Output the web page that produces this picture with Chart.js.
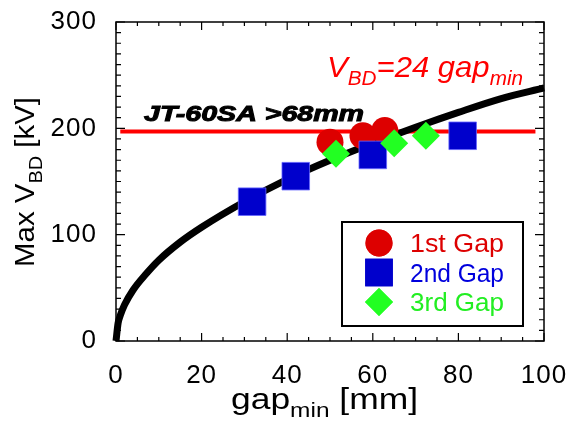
<!DOCTYPE html>
<html>
<head>
<meta charset="utf-8">
<script src="https://cdn.jsdelivr.net/npm/chart.js@4.4.0/dist/chart.umd.min.js"></script>
<style>
  html, body { margin: 0; padding: 0; background: #fff; }
  #wrap { width: 571px; height: 425px; }
</style>
</head>
<body>
<div id="wrap"><canvas id="c" width="571" height="425"></canvas></div>
<script>
// fitted breakdown curve
const curveGap = [0, 0.5, 1, 2, 4, 7, 10, 15, 20, 30, 40, 50, 60, 70, 80, 90, 100];
const curveV = [0, 17, 24, 34, 48, 63, 76, 93, 107, 131, 152, 170, 186, 201, 215, 228, 238];

// measured points
const gap1 = [50, 57.7, 62.8];
const v1 = [187, 193, 198];
const gap2 = [31.8, 42, 60, 81];
const v2 = [131, 155, 175, 193];
const gap3 = [51.4, 65, 72.4];
const v3 = [176, 186, 193];

// JT-60SA requirement line
const limitGap = [1, 98];
const limitV = [197, 197];

const xTicks = [0, 20, 40, 60, 80, 100];
const yTicks = [0, 100, 200, 300];

const FONT = '"Liberation Sans", Arial, Helvetica, sans-serif';
const RED = '#dd0000';
const BLUE = '#0000cc';
const GREEN = '#22ff22';

const pts = (xs, ys) => xs.map((x, i) => ({ x, y: ys[i] }));

function richWidth(ctx, parts, size, subSize, style) {
    let w = 0;
    parts.forEach(([t, sub]) => {
        ctx.font = `${style} ${sub ? subSize : size}px ${FONT}`;
        w += ctx.measureText(t).width;
    });
    return w;
}

// text with subscript pieces, squeezed/stretched to a target width
function drawRich(ctx, parts, x, y, size, subSize, style, width, stroke) {
    const w = richWidth(ctx, parts, size, subSize, style);
    const k = width ? width / w : 1;
    ctx.save();
    ctx.translate(x, y);
    ctx.scale(k, 1);
    let cx = 0;
    parts.forEach(([t, sub]) => {
        ctx.font = `${style} ${sub ? subSize : size}px ${FONT}`;
        ctx.fillText(t, cx, sub ? size * 0.28 : 0);
        if (stroke) {
            ctx.strokeStyle = ctx.fillStyle;
            ctx.lineWidth = stroke;
            ctx.strokeText(t, cx, sub ? size * 0.28 : 0);
        }
        cx += ctx.measureText(t).width;
    });
    ctx.restore();
}

const decor = {
    id: 'decor',
    beforeDraw(chart) {
        chart.ctx.letterSpacing = '1px';
    },
    afterDraw(chart) {
        const { ctx, chartArea: a, scales: { x, y } } = chart;
        ctx.save();
        ctx.letterSpacing = '0px';

        // frame
        ctx.strokeStyle = '#000';
        ctx.lineWidth = 1.5;
        ctx.strokeRect(a.left, a.top, a.right - a.left, a.bottom - a.top);

        // inward ticks on all sides
        ctx.lineWidth = 1.2;
        ctx.beginPath();
        for (let v = 0; v <= 100; v += 5) {
            const px = x.getPixelForValue(v);
            const len = v % 20 === 0 ? 8 : 4;
            ctx.moveTo(px, a.bottom); ctx.lineTo(px, a.bottom - len);
            ctx.moveTo(px, a.top); ctx.lineTo(px, a.top + len);
        }
        for (let v = 0; v <= 300; v += 10) {
            const py = y.getPixelForValue(v);
            const len = v % 100 === 0 ? 9 : 5;
            ctx.moveTo(a.left, py); ctx.lineTo(a.left + len, py);
            ctx.moveTo(a.right, py); ctx.lineTo(a.right - len, py);
        }
        ctx.stroke();

        ctx.textBaseline = 'alphabetic';
        ctx.textAlign = 'left';

        // x axis title
        ctx.fillStyle = '#000';
        drawRich(ctx, [['gap', false], ['min', true], [' [mm]', false]], 231, 409, 29, 20, 'normal', 187);

        // y axis title (rotated)
        ctx.save();
        ctx.translate(34, 267);
        ctx.rotate(-Math.PI / 2);
        drawRich(ctx, [['Max V', false], ['BD', true], [' [kV]', false]], 0, 0, 28, 19, 'normal', 170);
        ctx.restore();

        // formula annotation
        ctx.fillStyle = '#ff0000';
        drawRich(ctx, [['V', false], ['BD', true], ['=24 gap', false], ['min', true]],
            327, 77, 30, 20, 'italic', 196);

        // JT-60SA label
        ctx.fillStyle = '#000';
        drawRich(ctx, [['JT-60SA >68mm', false]], 144, 121, 22, 14, 'italic bold', 220, 1);

        // legend box
        const lx = 342, ly = 222, lw = 181, lh = 104;
        ctx.fillStyle = '#fff';
        ctx.fillRect(lx, ly, lw, lh);
        ctx.strokeStyle = '#000';
        ctx.lineWidth = 2;
        ctx.strokeRect(lx, ly, lw, lh);
        const items = [
            ['1st Gap', RED, RED, 'circle', 13.5],
            ['2nd Gap', BLUE, '#0000dd', 'rect', 19.5],
            ['3rd Gap', GREEN, '#22ee22', 'rectRot', 14]
        ];
        items.forEach(([label, col, txtCol, style, r], i) => {
            const cy = 243 + i * 29.5;
            ctx.fillStyle = col;
            Chart.helpers.drawPoint(ctx, { pointStyle: style, radius: r, borderWidth: 0, rotation: 0 }, 379, cy);
            ctx.fill();
            ctx.fillStyle = txtCol;
            drawRich(ctx, [[label, false]], 410, cy + 9, 25, 16, 'normal', 94);
        });
        ctx.restore();
    }
};

new Chart(document.getElementById('c'), {
    type: 'scatter',
    data: {
        datasets: [
            {
                label: 'JT-60SA', data: pts(limitGap, limitV), showLine: true,
                borderColor: '#ff0000', borderWidth: 4, pointRadius: 0, order: 5
            },
            {
                label: 'fit', data: pts(curveGap, curveV), showLine: true,
                borderColor: '#000', borderWidth: 7, pointRadius: 0,
                cubicInterpolationMode: 'monotone', clip: false, order: 4
            },
            {
                label: '1st Gap', data: pts(gap1, v1), pointStyle: 'circle', pointRadius: 13.5,
                backgroundColor: RED, borderWidth: 0, order: 3
            },
            {
                label: '2nd Gap', data: pts(gap2, v2), pointStyle: 'rect', pointRadius: 19.5,
                backgroundColor: BLUE, borderColor: '#6666ff', borderWidth: 0.8, order: 2
            },
            {
                label: '3rd Gap', data: pts(gap3, v3), pointStyle: 'rectRot', pointRadius: 14,
                backgroundColor: GREEN, borderWidth: 0, order: 1
            }
        ]
    },
    options: {
        responsive: false,
        animation: false,
        events: [],
        layout: { padding: { left: 0, right: 27, top: 22, bottom: 0 } },
        plugins: { legend: { display: false }, tooltip: { enabled: false } },
        scales: {
            x: {
                type: 'linear', min: 0, max: 100,
                afterFit: s => { s.height = 84; s.paddingLeft = 0; s.paddingRight = 0; },
                afterBuildTicks: s => { s.ticks = xTicks.map(v => ({ value: v })); },
                grid: { display: false },
                border: { display: false },
                ticks: { color: '#000', font: { family: FONT, size: 26 }, padding: 11, maxRotation: 0 }
            },
            y: {
                type: 'linear', min: 0, max: 300,
                afterFit: s => { s.width = 116; s.paddingTop = 0; s.paddingBottom = 0; },
                afterBuildTicks: s => { s.ticks = yTicks.map(v => ({ value: v })); },
                grid: { display: false },
                border: { display: false },
                ticks: { color: '#000', font: { family: FONT, size: 26 }, padding: 11 }
            }
        }
    },
    plugins: [decor]
});
</script>
</body>
</html>
